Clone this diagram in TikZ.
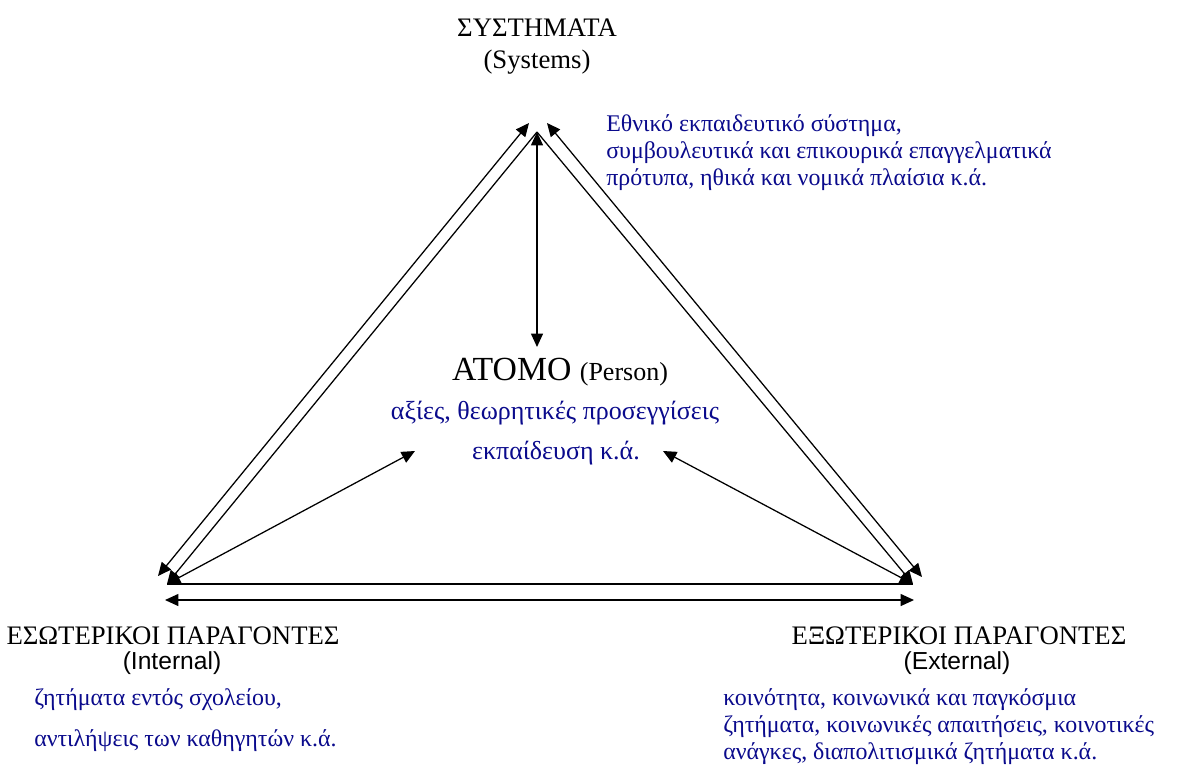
\documentclass[tikz,border=0pt]{standalone}
\usepackage{fontspec}
\setmainfont{Liberation Serif}
\newfontfamily\arialfont{Liberation Sans}
\usetikzlibrary{arrows.meta}
\definecolor{navytext}{RGB}{10,10,140}

\begin{document}
\begin{tikzpicture}[x=0.025cm, y=-0.025cm,
	arr/.style={line width=0.9pt, {Triangle[length=9.5pt, width=8.5pt]}-{Triangle[length=9.5pt, width=8.5pt]}},
	arrend/.style={line width=0.9pt, -{Triangle[length=9.5pt, width=8.5pt]}},
	plain/.style={line width=0.9pt},
	title/.style={inner sep=0pt, font=\fontsize{19}{22}\selectfont},
	sub/.style={inner sep=0pt, font=\arialfont\fontsize{17.5}{20}\selectfont},
	blue/.style={inner sep=0pt, text=navytext, font=\fontsize{17}{19.2}\selectfont}]
	    \useasboundingbox (0,0) rectangle (1188,765);
	    \node[title] (sys) at (537,28) {ΣΥΣΤΗΜΑΤΑ};
	    \node[title] (sys2) at (537,62) {(Systems)};
	    \node[blue, anchor=west, align=left] (sysinfo) at (606,153) {Εθνικό εκπαιδευτικό σύστημα,\\συμβουλευτικά και επικουρικά επαγγελματικά\\πρότυπα, ηθικά και νομικά πλαίσια κ.ά.};
	    \node[inner sep=0pt] (person) at (560,372) {\fontsize{24}{27}\selectfont ΑΤΟΜΟ \fontsize{18.5}{21}\selectfont(Person)};
	    \node[blue, font=\fontsize{18.5}{21}\selectfont] (pinfo) at (555,413) {αξίες, θεωρητικές προσεγγίσεις};
	    \node[blue, font=\fontsize{18.5}{21}\selectfont] (pinfo2) at (556,453) {εκπαίδευση κ.ά.};
	    \node[title] (int) at (173,636) {ΕΣΩΤΕΡΙΚΟΙ ΠΑΡΑΓΟΝΤΕΣ};
	    \node[sub] (int2) at (172,663) {(Internal)};
	    \node[blue, anchor=west] (intinfo) at (34,700) {ζητήματα εντός σχολείου,};
	    \node[blue, anchor=west] (intinfo2) at (34,741) {αντιλήψεις των καθηγητών κ.ά.};
	    \node[title] (ext) at (959,636) {ΕΞΩΤΕΡΙΚΟΙ ΠΑΡΑΓΟΝΤΕΣ};
	    \node[sub] (ext2) at (957,663) {(External)};
	    \node[blue, anchor=west, align=left] (extinfo) at (723,727) {κοινότητα, κοινωνικά και παγκόσμια\\ζητήματα, κοινωνικές απαιτήσεις, κοινοτικές\\ανάγκες, διαπολιτισμικά ζητήματα κ.ά.};
	    \coordinate (top) at (537,132);
	    \coordinate (topl) at (529,123);
	    \coordinate (topr) at (547,123);
	    \coordinate (bl) at (167,584);
	    \coordinate (br) at (913,584);
	    \coordinate (botl) at (158,576);
	    \coordinate (botr) at (922,577);
	    \coordinate (mid) at (537,347);
	    \coordinate (midl) at (415,451);
	    \coordinate (midr) at (663,451);
	    \coordinate (bl2) at (165,600);
	    \coordinate (br2) at (914,600);
	    \draw[arr] (topl) -- (botl);
	    \draw[arr] (topr) -- (botr);
	    \draw[arr] (top) -- (mid);
	    \draw[arrend] (top) -- (bl);
	    \draw[arrend] (top) -- (br);
	    \draw[plain] (bl) -- (br);
	    \draw[arr] (bl) -- (midl);
	    \draw[arr] (br) -- (midr);
	    \draw[arr] (bl2) -- (br2);
	\end{tikzpicture}
\end{document}
